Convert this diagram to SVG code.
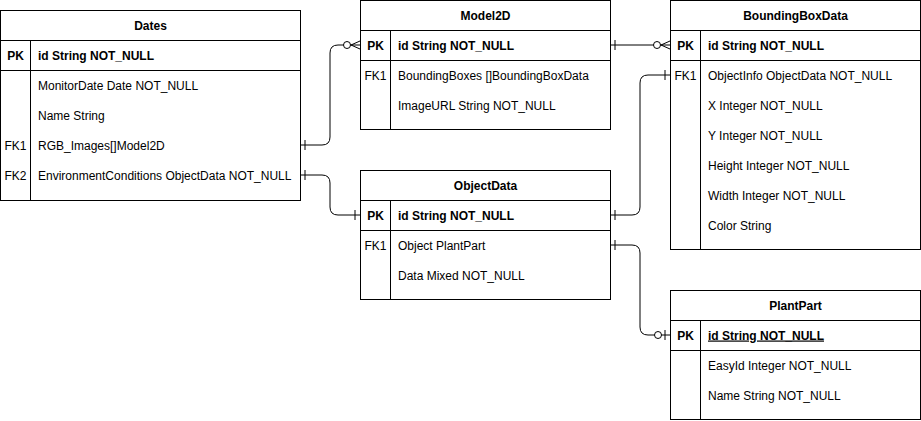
<svg xmlns="http://www.w3.org/2000/svg" width="921" height="421" viewBox="0 0 921 421">
<style>
.box{fill:#fff;stroke:#000;stroke-width:1}
.ln{stroke:#000;stroke-width:1;fill:none}
text{font-family:"Liberation Sans",Arial,sans-serif;font-size:12px;fill:#000}
.t{font-weight:bold;text-anchor:middle}
.b{font-weight:bold}
.k{text-anchor:middle}
.kb{text-anchor:middle;font-weight:bold}
.c{fill:#fff;stroke:#000;stroke-width:1}
</style>
<rect width="921" height="421" fill="#fff"/>
<g id="connectors">
<path class="ln" d="M300,145 H322 Q330,145 330,137 V53 Q330,45 338,45 H360"/>
<path class="ln" d="M305,140 V150"/>
<circle class="c" cx="347" cy="45" r="3.5"/>
<path class="ln" d="M360,41 L351,45 L360,49"/>

<path class="ln" d="M300,175 H322 Q330,175 330,183 V207 Q330,215 338,215 H360"/>
<path class="ln" d="M305,170 V180 M355,210 V220"/>

<path class="ln" d="M610,45 H670"/>
<path class="ln" d="M615,40 V50"/>
<circle class="c" cx="657" cy="45" r="3.5"/>
<path class="ln" d="M670,41 L661,45 L670,49"/>

<path class="ln" d="M610,215 H632 Q640,215 640,207 V83 Q640,75 648,75 H670"/>
<path class="ln" d="M615,210 V220 M665,70 V80"/>

<path class="ln" d="M610,245 H632 Q640,245 640,253 V327 Q640,335 648,335 H670"/>
<path class="ln" d="M615,240 V250 M665,330 V340"/>
<circle class="c" cx="658" cy="335" r="3.5"/>
</g>

<g id="Dates">
<rect class="box" x="0.5" y="10.5" width="300" height="190"/>
<path class="ln" d="M0.5,40.5 H300.5 M0.5,70.5 H300.5 M30.5,40.5 V200.5"/>
<text class="t" x="150.5" y="29.5">Dates</text>
<text class="kb" x="15.5" y="59.5">PK</text>
<text class="b" x="38" y="59.5">id String NOT_NULL</text>
<text x="38" y="89.5">MonitorDate Date NOT_NULL</text>
<text x="38" y="119.5">Name String</text>
<text class="k" x="15.5" y="149.5">FK1</text>
<text x="38" y="149.5">RGB_Images[]Model2D</text>
<text class="k" x="15.5" y="179.5">FK2</text>
<text x="38" y="179.5">EnvironmentConditions ObjectData NOT_NULL</text>
</g>

<g id="Model2D">
<rect class="box" x="360.5" y="0.5" width="250" height="129"/>
<path class="ln" d="M360.5,30.5 H610.5 M360.5,60.5 H610.5 M390.5,30.5 V129.5"/>
<text class="t" x="485.5" y="19.5">Model2D</text>
<text class="kb" x="375.5" y="49.5">PK</text>
<text class="b" x="398" y="49.5">id String NOT_NULL</text>
<text class="k" x="375.5" y="79.5">FK1</text>
<text x="398" y="79.5">BoundingBoxes []BoundingBoxData</text>
<text x="398" y="109.5">ImageURL String NOT_NULL</text>
</g>

<g id="ObjectData">
<rect class="box" x="360.5" y="170.5" width="250" height="129"/>
<path class="ln" d="M360.5,200.5 H610.5 M360.5,230.5 H610.5 M390.5,200.5 V299.5"/>
<text class="t" x="485.5" y="189.5">ObjectData</text>
<text class="kb" x="375.5" y="219.5">PK</text>
<text class="b" x="398" y="219.5">id String NOT_NULL</text>
<text class="k" x="375.5" y="249.5">FK1</text>
<text x="398" y="249.5">Object PlantPart</text>
<text x="398" y="279.5">Data Mixed NOT_NULL</text>
</g>

<g id="BoundingBoxData">
<rect class="box" x="670.5" y="0.5" width="250" height="249"/>
<path class="ln" d="M670.5,30.5 H920.5 M670.5,60.5 H920.5 M700.5,30.5 V249.5"/>
<text class="t" x="795.5" y="19.5">BoundingBoxData</text>
<text class="kb" x="685.5" y="49.5">PK</text>
<text class="b" x="708" y="49.5">id String NOT_NULL</text>
<text class="k" x="685.5" y="79.5">FK1</text>
<text x="708" y="79.5">ObjectInfo ObjectData NOT_NULL</text>
<text x="708" y="109.5">X Integer NOT_NULL</text>
<text x="708" y="139.5">Y Integer NOT_NULL</text>
<text x="708" y="169.5">Height Integer NOT_NULL</text>
<text x="708" y="199.5">Width Integer NOT_NULL</text>
<text x="708" y="229.5">Color String</text>
</g>

<g id="PlantPart">
<rect class="box" x="670.5" y="290.5" width="250" height="129"/>
<path class="ln" d="M670.5,320.5 H920.5 M670.5,350.5 H920.5 M700.5,320.5 V419.5"/>
<text class="t" x="795.5" y="309.5">PlantPart</text>
<text class="kb" x="685.5" y="339.5">PK</text>
<text class="b" x="708" y="339.5" text-decoration="underline">id String NOT_NULL</text>
<text x="708" y="369.5">EasyId Integer NOT_NULL</text>
<text x="708" y="399.5">Name String NOT_NULL</text>
</g>
</svg>
